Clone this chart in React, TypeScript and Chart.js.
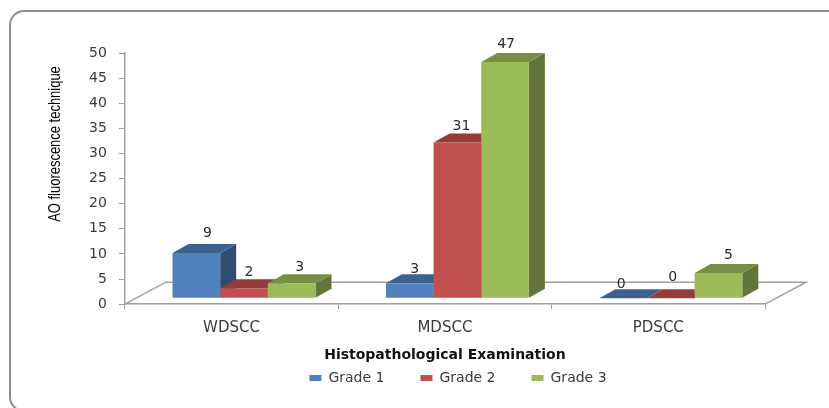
import React, { useEffect, useRef } from "react";
import { Chart, registerables } from "chart.js";

Chart.register(...registerables);

const categories = ["WDSCC", "MDSCC", "PDSCC"];
const grade1 = [9, 3, 0];
const grade2 = [2, 31, 0];
const grade3 = [3, 47, 5];
const seriesNames = ["Grade 1", "Grade 2", "Grade 3"];
const seriesValues = [grade1, grade2, grade3];
const frontColors = ["#4f81bd", "#c0504d", "#9bbb59"];
const topColors = ["#3c618f", "#943c3a", "#778f44"];
const sideColors = ["#2f4d72", "#7a3230", "#62753a"];
const yTitle = "AO fluorescence technique";
const xTitle = "Histopathological Examination";

const AXIS = "#a0a0a0";
const TEXT = "#3a3a3a";
const DEPTH_X = 16;
const DEPTH_Y = 9;
const SHIFT_X = 12.5;
const SHIFT_Y = -6;
const FLOOR_X = 41;
const FLOOR_Y = 22;
// label placement relative to the back edge of each bar's top face, per series then category
const LABEL_DX = [[11, 5, -2], [5, 4, 2], [8, 1, 10]];
const LABEL_DY = [[-11, -5, -5], [-7, -7, -12], [-7, -9, -9]];

const poly = (ctx: CanvasRenderingContext2D, pts: number[][], fill: string) => {
  ctx.beginPath();
  pts.forEach((p, i) => (i ? ctx.lineTo(p[0], p[1]) : ctx.moveTo(p[0], p[1])));
  ctx.closePath();
  ctx.fillStyle = fill;
  ctx.fill();
};

const frame3d = {
  id: "frame3d",
  beforeDraw(chart: any) {
    const { ctx, chartArea: a } = chart;
    ctx.save();
    ctx.strokeStyle = "#8f8f8f";
    ctx.lineWidth = 2;
    ctx.beginPath();
    ctx.roundRect(10, 11, 860, 400, 14);
    ctx.stroke();
    // floor outline
    ctx.strokeStyle = AXIS;
    ctx.lineWidth = 1.5;
    ctx.beginPath();
    ctx.moveTo(a.left, a.bottom);
    ctx.lineTo(a.left + FLOOR_X, a.bottom - FLOOR_Y);
    ctx.lineTo(a.right + FLOOR_X, a.bottom - FLOOR_Y);
    ctx.lineTo(a.right, a.bottom);
    ctx.stroke();
    // y axis title, condensed as in the original
    ctx.translate(56, 144);
    ctx.rotate(-Math.PI / 2);
    ctx.scale(0.81, 1);
    ctx.font = "16px 'Liberation Sans'";
    ctx.fillStyle = "#000000";
    ctx.textAlign = "center";
    ctx.textBaseline = "middle";
    ctx.fillText(yTitle, 0, 0);
    ctx.restore();
  },
  afterLayout(chart: any) {
    // the legend sits under the plot, right of the canvas centre
    const l = chart.legend;
    const dx = 458 - (l.left + l.right) / 2;
    l.left += dx;
    l.right += dx;
    l.top -= 29;
    l.bottom -= 29;
  },
  beforeDatasetsDraw(chart: any) {
    const { ctx } = chart;
    ctx.save();
    ctx.translate(SHIFT_X, SHIFT_Y);
    seriesValues.forEach((_, i) => {
      chart.getDatasetMeta(i).data.forEach((bar: any) => {
        const { x, y, base, width } = bar.getProps(["x", "y", "base", "width"], true);
        const l = x - width / 2;
        const r = x + width / 2;
        poly(ctx, [[r, y], [r, base], [r + DEPTH_X, base - DEPTH_Y], [r + DEPTH_X, y - DEPTH_Y]], sideColors[i]);
        poly(ctx, [[l, y], [r, y], [r + DEPTH_X, y - DEPTH_Y], [l + DEPTH_X, y - DEPTH_Y]], topColors[i]);
      });
    });
    ctx.restore();
  },
  beforeDatasetDraw(chart: any) {
    chart.ctx.save();
    chart.ctx.translate(SHIFT_X, SHIFT_Y);
  },
  afterDatasetDraw(chart: any) {
    chart.ctx.restore();
  },
  afterDatasetsDraw(chart: any) {
    const { ctx } = chart;
    ctx.save();
    ctx.font = "14px 'DejaVu Sans'";
    ctx.fillStyle = "#2a2a2a";
    ctx.textAlign = "center";
    ctx.textBaseline = "middle";
    seriesValues.forEach((vals, i) => {
      const meta = chart.getDatasetMeta(i);
      vals.forEach((v, j) => {
        const bar = meta.data[j] as any;
        ctx.fillText(String(v), bar.x + SHIFT_X + LABEL_DX[i][j], bar.y + SHIFT_Y - DEPTH_Y + LABEL_DY[i][j]);
      });
    });
    ctx.restore();
  },
};

export default function App() {
  const ref = useRef<HTMLCanvasElement>(null);
  useEffect(() => {
    document.body.style.margin = "0";
    const chart = new Chart(ref.current!, {
      type: "bar",
      data: {
        labels: categories,
        datasets: seriesNames.map((name, i) => ({
          label: name,
          data: seriesValues[i],
          backgroundColor: frontColors[i],
          categoryPercentage: 0.67,
          barPercentage: 1,
        })),
      },
      plugins: [frame3d],
      options: {
        responsive: false,
        animation: false,
        layout: { padding: { left: 77, right: 64, top: 53, bottom: -16 } },
        plugins: {
          tooltip: { enabled: false },
          title: { display: false },
          legend: {
            position: "bottom",
            labels: {
              boxWidth: 12,
              boxHeight: 6,
              padding: 36,
              color: TEXT,
              font: { family: "'DejaVu Sans'", size: 14 },
            },
          },
        },
        scales: {
          x: {
            grid: { drawOnChartArea: false, tickLength: 5, color: AXIS, offset: true },
            border: { color: AXIS, width: 1.5 },
            ticks: { color: TEXT, padding: 10, font: { family: "'DejaVu Sans'", size: 15 }, maxRotation: 0 },
            title: {
              display: true,
              text: xTitle,
              color: "#111111",
              padding: { top: 0, bottom: 0 },
              font: { family: "'DejaVu Sans'", size: 14, weight: "bold" },
            },
          },
          y: {
            min: 0,
            max: 50,
            grid: { drawOnChartArea: false, tickLength: 6, color: AXIS },
            border: { color: AXIS, width: 1.5 },
            ticks: { stepSize: 5, color: TEXT, padding: 12, font: { family: "'DejaVu Sans'", size: 14 } },
          },
        },
      },
    } as any);
    return () => chart.destroy();
  }, []);
  return <canvas ref={ref} width={829} height={408} style={{ display: "block" }} />;
}
